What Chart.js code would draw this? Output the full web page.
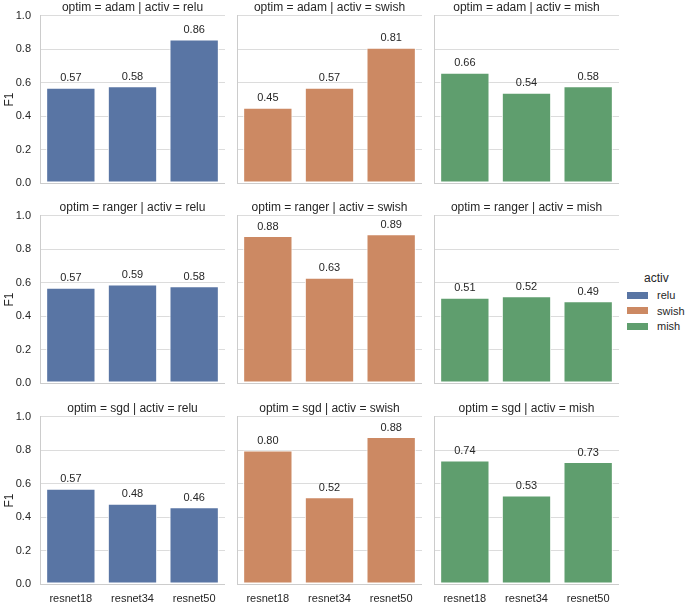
<!DOCTYPE html>
<html>
<head>
<meta charset="utf-8">
<script src="https://cdn.jsdelivr.net/npm/chart.js@4"></script>
<style>
  body { margin: 0; background: #fff; width: 685px; height: 604px; position: relative; overflow: hidden;
         font-family: "Liberation Sans", Arial, sans-serif; color: #262626; }
  canvas { position: absolute; }
  .legend { position: absolute; left: 620px; top: 270px; font-size: 11px; }
  .legend .ttl { position: absolute; left: 24px; top: 1px; font-size: 12px; }
  .legend .row { position: absolute; left: 7px; height: 14px; line-height: 14px; white-space: nowrap; }
  .legend .sw { display: inline-block; width: 21px; height: 7px; vertical-align: middle; margin-right: 9px; margin-top: -2px; }
</style>
</head>
<body>
<div class="legend" id="legend"><div class="ttl">activ</div></div>
<script>
const models = ["resnet18", "resnet34", "resnet50"];
const optims = ["adam", "ranger", "sgd"];
const activs = ["relu", "swish", "mish"];
const activColors = ["#5975a4", "#cc8963", "#5f9e6e"];
const yTicks = [0, 0.2, 0.4, 0.6, 0.8, 1.0];

// F1 per optimizer / activation, order of models
const adamRelu = [0.57, 0.58, 0.86];
const adamSwish = [0.45, 0.57, 0.81];
const adamMish = [0.66, 0.54, 0.58];
const rangerRelu = [0.57, 0.59, 0.58];
const rangerSwish = [0.88, 0.63, 0.89];
const rangerMish = [0.51, 0.52, 0.49];
const sgdRelu = [0.57, 0.48, 0.46];
const sgdSwish = [0.80, 0.52, 0.88];
const sgdMish = [0.74, 0.53, 0.73];

const f1 = [
  [adamRelu, adamSwish, adamMish],
  [rangerRelu, rangerSwish, rangerMish],
  [sgdRelu, sgdSwish, sgdMish],
];

const FONT = '"Liberation Sans", Arial, sans-serif';
const INK = "#262626";
const colLeft = [40, 237, 434];
const rowTop = [16, 216, 417];
const plotW = 185, plotH = 167, titleH = 16;

const barLabels = {
  id: "barLabels",
  afterDatasetsDraw(chart) {
    const ctx = chart.ctx;
    const vals = chart.data.datasets[0].data;
    ctx.save();
    ctx.font = "11px " + FONT;
    ctx.fillStyle = INK;
    ctx.textAlign = "center";
    ctx.textBaseline = "alphabetic";
    chart.getDatasetMeta(0).data.forEach((bar, i) => {
      ctx.fillText(vals[i].toFixed(2), bar.x, bar.y - 6.5);
    });
    ctx.restore();
  }
};

optims.forEach((opt, r) => {
  activs.forEach((act, c) => {
    const leftW = c === 0 ? 40 : 6;
    const bottomH = r === 2 ? 24 : 16;
    const cv = document.createElement("canvas");
    cv.width = leftW + plotW;
    cv.height = titleH + plotH + bottomH;
    cv.style.left = (colLeft[c] - leftW) + "px";
    cv.style.top = (rowTop[r] - titleH) + "px";
    document.body.appendChild(cv);

    new Chart(cv.getContext("2d"), {
      type: "bar",
      data: {
        labels: models,
        datasets: [{
          data: f1[r][c],
          backgroundColor: activColors[c],
          borderColor: "#ffffff",
          borderWidth: 1,
          borderSkipped: false,
          barPercentage: 0.8,
          categoryPercentage: 1.0,
        }],
      },
      options: {
        responsive: false,
        animation: false,
        devicePixelRatio: 1,
        layout: { padding: 0 },
        plugins: {
          legend: { display: false },
          tooltip: { enabled: false },
          title: {
            display: true,
            fullSize: false,
            text: "optim = " + opt + " | activ = " + act,
            color: INK,
            font: { family: FONT, size: 12, weight: "normal", lineHeight: 1.2 },
            padding: { top: 0, bottom: 1.6 },
          },
        },
        scales: {
          x: {
            grid: { display: false, drawTicks: false },
            border: { display: true, color: "#cccccc", width: 1 },
            ticks: { display: r === 2, color: INK, padding: 8, font: { family: FONT, size: 11 } },
            afterFit: (s) => { s.height = bottomH; },
          },
          y: {
            min: 0,
            max: 1,
            afterBuildTicks: (s) => { s.ticks = yTicks.map((v) => ({ value: v })); },
            grid: { color: "#dcdcdc", lineWidth: 1, drawTicks: false },
            border: { display: true, color: "#cccccc", width: 1 },
            ticks: {
              display: c === 0,
              color: INK,
              padding: 9,
              font: { family: FONT, size: 11 },
              callback: (v) => Number(v).toFixed(1),
            },
            title: {
              display: c === 0,
              text: "F1",
              color: INK,
              padding: { top: 2, bottom: 0 },
              font: { family: FONT, size: 12 },
            },
            afterFit: (s) => { s.width = leftW; },
          },
        },
      },
      plugins: [barLabels],
    });
  });
});

// legend for the hue variable
const legend = document.getElementById("legend");
activs.forEach((a, i) => {
  const row = document.createElement("div");
  row.className = "row";
  row.style.top = (18 + i * 15.5) + "px";
  row.innerHTML = '<span class="sw" style="background:' + activColors[i] + '"></span>' + a;
  legend.appendChild(row);
});
</script>
</body>
</html>
